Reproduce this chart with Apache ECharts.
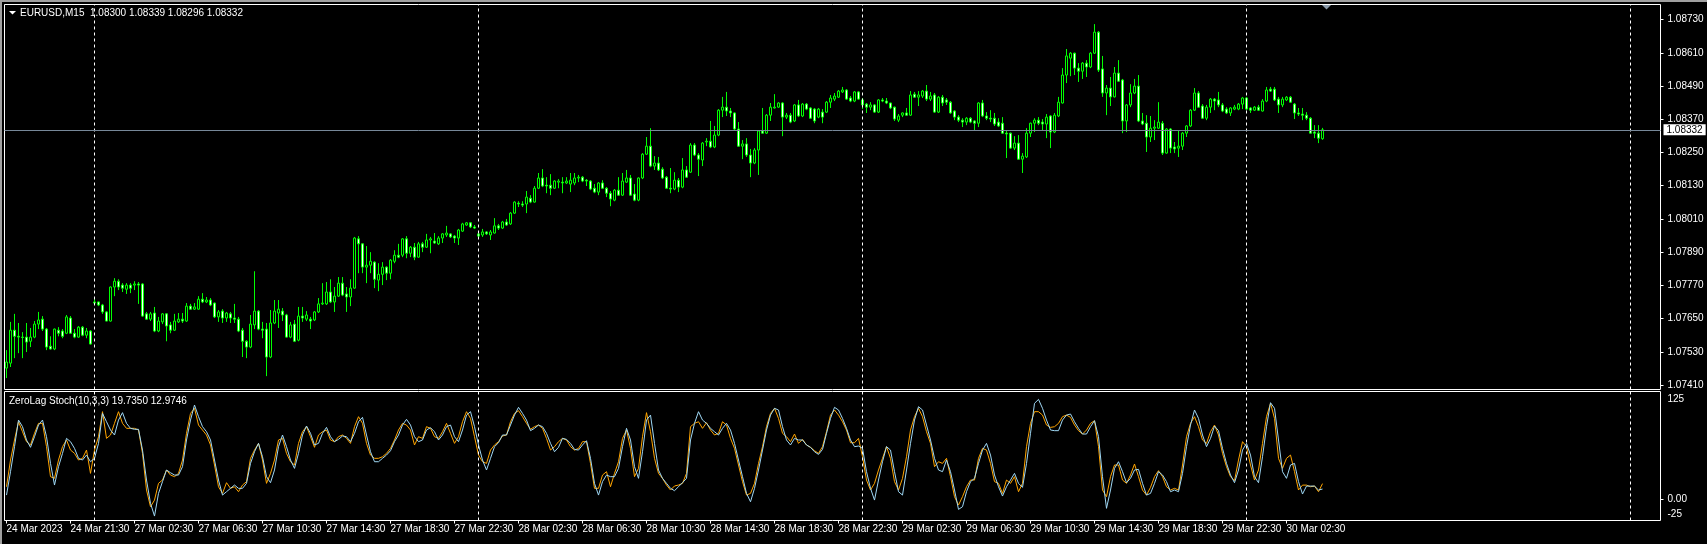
<!DOCTYPE html>
<html><head><meta charset="utf-8">
<script src="https://cdn.jsdelivr.net/npm/echarts@6/dist/echarts.min.js"></script>
<style>html,body{margin:0;padding:0;background:#000;overflow:hidden}#c{width:1707px;height:544px}</style>
</head><body><div id="c"></div>
<script>
// ---- tick labels / axis data ----
const tickLabels = ["24 Mar 2023","24 Mar 21:30","27 Mar 02:30","27 Mar 06:30","27 Mar 10:30","27 Mar 14:30",
 "27 Mar 18:30","27 Mar 22:30","28 Mar 02:30","28 Mar 06:30","28 Mar 10:30","28 Mar 14:30","28 Mar 18:30",
 "28 Mar 22:30","29 Mar 02:30","29 Mar 06:30","29 Mar 10:30","29 Mar 14:30","29 Mar 18:30","29 Mar 22:30","30 Mar 02:30"];
const labelEvery = 16;               // one time label per 16 bars (4 hours of M15)
const daySeparators = [22,118,214,310,406];
const priceTicks = [1.07410,1.07530,1.07650,1.07770,1.07890,1.08010,1.08130,1.08250,1.08370,1.08490,1.08610,1.08730];
const stochTicks = [-25,0,125];
const slots = 414;                   // bar slots on the time axis (incl. empty right side)

// ---- EURUSD M15 OHLC ----
const open = [
1.07471,1.07489,1.07608,1.07586,1.07583,1.07583,1.07568,1.07583,1.07630,1.07648,
1.07612,1.07550,1.07540,1.07608,1.07605,1.07597,1.07652,1.07597,1.07583,1.07619,
1.07590,1.07605,1.07706,1.07710,1.07699,1.07674,1.07641,1.07764,1.07785,1.07771,
1.07756,1.07771,1.07771,1.07775,1.07775,1.07667,1.07648,1.07670,1.07605,1.07638,
1.07667,1.07627,1.07608,1.07638,1.07648,1.07641,1.07695,1.07684,1.07684,1.07720,
1.07710,1.07717,1.07706,1.07656,1.07677,1.07652,1.07667,1.07652,1.07648,1.07608,
1.07568,1.07547,1.07627,1.07677,1.07612,1.07612,1.07511,1.07634,1.07670,1.07677,
1.07663,1.07583,1.07630,1.07572,1.07659,1.07648,1.07648,1.07645,1.07674,1.07703,
1.07703,1.07746,1.07710,1.07731,1.07778,1.07739,1.07728,1.07760,1.07938,1.07920,
1.07836,1.07843,1.07854,1.07789,1.07810,1.07836,1.07814,1.07857,1.07879,1.07879,
1.07938,1.07886,1.07908,1.07872,1.07920,1.07908,1.07934,1.07930,1.07920,1.07941,
1.07952,1.07956,1.07948,1.07941,1.07966,1.07988,1.07996,1.07981,1.07956,1.07952,
1.07963,1.07952,1.07959,1.07985,1.07977,1.07999,1.07992,1.08031,1.08067,1.08064,
1.08064,1.08085,1.08071,1.08121,1.08158,1.08132,1.08132,1.08121,1.08143,1.08143,
1.08140,1.08136,1.08140,1.08158,1.08161,1.08150,1.08147,1.08121,1.08107,1.08140,
1.08121,1.08103,1.08078,1.08114,1.08096,1.08143,1.08158,1.08100,1.08078,1.08158,
1.08244,1.08273,1.08201,1.08212,1.08190,1.08161,1.08121,1.08118,1.08150,1.08125,
1.08187,1.08179,1.08277,1.08241,1.08223,1.08288,1.08291,1.08270,1.08313,1.08403,
1.08414,1.08400,1.08393,1.08335,1.08273,1.08281,1.08241,1.08212,1.08259,1.08328,
1.08320,1.08385,1.08411,1.08414,1.08429,1.08378,1.08385,1.08364,1.08422,1.08382,
1.08425,1.08411,1.08407,1.08378,1.08396,1.08396,1.08432,1.08443,1.08450,1.08469,
1.08476,1.08447,1.08436,1.08469,1.08440,1.08425,1.08414,1.08422,1.08396,1.08440,
1.08436,1.08429,1.08414,1.08367,1.08385,1.08393,1.08385,1.08461,1.08450,1.08454,
1.08472,1.08443,1.08458,1.08396,1.08450,1.08440,1.08432,1.08400,1.08378,1.08367,
1.08360,1.08374,1.08364,1.08356,1.08429,1.08382,1.08374,1.08374,1.08360,1.08356,
1.08320,1.08320,1.08266,1.08284,1.08226,1.08234,1.08320,1.08356,1.08367,1.08360,
1.08353,1.08382,1.08324,1.08382,1.08429,1.08530,1.08591,1.08609,1.08555,1.08544,
1.08573,1.08559,1.08609,1.08685,1.08552,1.08465,1.08483,1.08451,1.08537,1.08512,
1.08364,1.08422,1.08465,1.08490,1.08364,1.08356,1.08306,1.08338,1.08338,1.08356,
1.08248,1.08335,1.08270,1.08266,1.08273,1.08320,1.08346,1.08403,1.08465,1.08418,
1.08374,1.08414,1.08443,1.08440,1.08422,1.08407,1.08393,1.08407,1.08407,1.08425,
1.08447,1.08411,1.08403,1.08414,1.08400,1.08436,1.08479,1.08479,1.08443,1.08422,
1.08440,1.08450,1.08425,1.08393,1.08389,1.08385,1.08374,1.08324,1.08320,1.08300];
const high = [
1.07536,1.07638,1.07667,1.07634,1.07601,1.07634,1.07616,1.07641,1.07674,1.07659,
1.07616,1.07586,1.07614,1.07619,1.07612,1.07663,1.07659,1.07612,1.07623,1.07623,
1.07616,1.07608,1.07720,1.07711,1.07703,1.07677,1.07766,1.07796,1.07792,1.07778,
1.07778,1.07778,1.07785,1.07782,1.07778,1.07674,1.07674,1.07692,1.07656,1.07670,
1.07670,1.07638,1.07667,1.07670,1.07670,1.07706,1.07703,1.07706,1.07731,1.07742,
1.07728,1.07724,1.07708,1.07681,1.07684,1.07674,1.07674,1.07703,1.07656,1.07616,
1.07572,1.07663,1.07821,1.07681,1.07638,1.07634,1.07681,1.07717,1.07717,1.07688,
1.07667,1.07638,1.07645,1.07692,1.07692,1.07677,1.07656,1.07677,1.07724,1.07778,
1.07782,1.07792,1.07764,1.07800,1.07800,1.07764,1.07792,1.07945,1.07948,1.07923,
1.07912,1.07890,1.07857,1.07850,1.07854,1.07839,1.07865,1.07897,1.07920,1.07941,
1.07948,1.07912,1.07923,1.07927,1.07927,1.07956,1.07945,1.07959,1.07948,1.07959,
1.07985,1.07959,1.07952,1.07974,1.07996,1.07999,1.07999,1.07988,1.07959,1.07974,
1.07966,1.07970,1.08013,1.07992,1.08003,1.08010,1.08035,1.08074,1.08074,1.08074,
1.08111,1.08096,1.08129,1.08176,1.08190,1.08161,1.08172,1.08150,1.08154,1.08161,
1.08161,1.08176,1.08176,1.08169,1.08165,1.08154,1.08150,1.08136,1.08143,1.08150,
1.08125,1.08111,1.08118,1.08161,1.08176,1.08187,1.08169,1.08136,1.08160,1.08248,
1.08306,1.08338,1.08237,1.08234,1.08197,1.08165,1.08194,1.08179,1.08158,1.08230,
1.08201,1.08284,1.08284,1.08248,1.08288,1.08302,1.08364,1.08346,1.08407,1.08451,
1.08469,1.08411,1.08395,1.08360,1.08295,1.08302,1.08263,1.08266,1.08331,1.08411,
1.08389,1.08429,1.08461,1.08432,1.08432,1.08393,1.08393,1.08425,1.08440,1.08429,
1.08429,1.08414,1.08411,1.08411,1.08407,1.08436,1.08458,1.08465,1.08476,1.08487,
1.08479,1.08454,1.08472,1.08472,1.08447,1.08429,1.08432,1.08425,1.08443,1.08447,
1.08447,1.08430,1.08416,1.08389,1.08395,1.08411,1.08472,1.08469,1.08472,1.08476,
1.08494,1.08469,1.08465,1.08454,1.08458,1.08447,1.08436,1.08403,1.08385,1.08374,
1.08378,1.08378,1.08367,1.08432,1.08440,1.08396,1.08403,1.08393,1.08374,1.08378,
1.08331,1.08322,1.08309,1.08313,1.08248,1.08338,1.08358,1.08374,1.08378,1.08371,
1.08389,1.08385,1.08393,1.08451,1.08555,1.08624,1.08613,1.08611,1.08573,1.08577,
1.08584,1.08613,1.08714,1.08689,1.08599,1.08494,1.08523,1.08559,1.08584,1.08516,
1.08425,1.08497,1.08516,1.08530,1.08393,1.08385,1.08382,1.08367,1.08432,1.08364,
1.08338,1.08338,1.08288,1.08331,1.08324,1.08349,1.08407,1.08483,1.08472,1.08425,
1.08422,1.08447,1.08447,1.08469,1.08429,1.08414,1.08414,1.08422,1.08429,1.08451,
1.08451,1.08414,1.08418,1.08422,1.08443,1.08487,1.08487,1.08487,1.08451,1.08451,
1.08454,1.08454,1.08429,1.08411,1.08411,1.08396,1.08378,1.08349,1.08349,1.08339];
const low = [
1.07435,1.07475,1.07507,1.07525,1.07507,1.07529,1.07547,1.07579,1.07612,1.07605,
1.07536,1.07538,1.07536,1.07586,1.07579,1.07594,1.07595,1.07579,1.07581,1.07586,
1.07579,1.07556,1.07699,1.07695,1.07667,1.07640,1.07639,1.07731,1.07753,1.07746,
1.07739,1.07742,1.07753,1.07703,1.07656,1.07645,1.07641,1.07601,1.07601,1.07630,
1.07568,1.07597,1.07605,1.07634,1.07634,1.07638,1.07682,1.07681,1.07682,1.07706,
1.07706,1.07695,1.07652,1.07638,1.07634,1.07638,1.07634,1.07634,1.07601,1.07511,
1.07507,1.07543,1.07612,1.07608,1.07579,1.07442,1.07507,1.07630,1.07616,1.07641,
1.07581,1.07579,1.07565,1.07568,1.07638,1.07641,1.07612,1.07641,1.07670,1.07699,
1.07699,1.07706,1.07674,1.07728,1.07731,1.07674,1.07695,1.07758,1.07814,1.07814,
1.07778,1.07814,1.07760,1.07749,1.07771,1.07789,1.07792,1.07850,1.07868,1.07872,
1.07868,1.07872,1.07861,1.07870,1.07890,1.07905,1.07886,1.07920,1.07916,1.07923,
1.07945,1.07941,1.07923,1.07916,1.07963,1.07985,1.07977,1.07974,1.07945,1.07945,
1.07952,1.07934,1.07957,1.07970,1.07974,1.07985,1.07988,1.08028,1.08053,1.08053,
1.08031,1.08067,1.08069,1.08118,1.08125,1.08103,1.08096,1.08118,1.08121,1.08103,
1.08136,1.08107,1.08132,1.08143,1.08143,1.08129,1.08114,1.08103,1.08096,1.08118,
1.08089,1.08056,1.08074,1.08093,1.08093,1.08140,1.08093,1.08074,1.08074,1.08154,
1.08241,1.08197,1.08187,1.08183,1.08154,1.08118,1.08103,1.08114,1.08107,1.08121,
1.08158,1.08176,1.08237,1.08165,1.08201,1.08273,1.08266,1.08266,1.08309,1.08378,
1.08382,1.08378,1.08328,1.08270,1.08226,1.08234,1.08161,1.08208,1.08169,1.08318,
1.08317,1.08364,1.08409,1.08411,1.08309,1.08371,1.08356,1.08360,1.08378,1.08378,
1.08403,1.08371,1.08356,1.08374,1.08356,1.08393,1.08411,1.08436,1.08447,1.08465,
1.08440,1.08432,1.08432,1.08440,1.08407,1.08393,1.08403,1.08393,1.08393,1.08432,
1.08425,1.08407,1.08364,1.08360,1.08378,1.08382,1.08382,1.08447,1.08418,1.08447,
1.08436,1.08436,1.08393,1.08393,1.08418,1.08422,1.08390,1.08367,1.08360,1.08342,
1.08349,1.08356,1.08331,1.08342,1.08378,1.08367,1.08360,1.08346,1.08342,1.08317,
1.08230,1.08263,1.08259,1.08223,1.08176,1.08230,1.08306,1.08324,1.08349,1.08331,
1.08302,1.08266,1.08320,1.08378,1.08427,1.08501,1.08526,1.08530,1.08505,1.08516,
1.08523,1.08555,1.08606,1.08541,1.08451,1.08385,1.08418,1.08449,1.08505,1.08320,
1.08324,1.08414,1.08461,1.08360,1.08349,1.08252,1.08288,1.08295,1.08335,1.08241,
1.08246,1.08248,1.08248,1.08234,1.08259,1.08306,1.08342,1.08400,1.08411,1.08371,
1.08367,1.08393,1.08403,1.08414,1.08396,1.08389,1.08382,1.08403,1.08403,1.08407,
1.08403,1.08393,1.08400,1.08400,1.08398,1.08432,1.08469,1.08436,1.08393,1.08414,
1.08436,1.08429,1.08371,1.08382,1.08367,1.08367,1.08318,1.08302,1.08284,1.08296];
const close = [
1.07493,1.07608,1.07586,1.07583,1.07582,1.07565,1.07583,1.07630,1.07645,1.07612,
1.07547,1.07540,1.07612,1.07597,1.07586,1.07656,1.07597,1.07583,1.07619,1.07590,
1.07605,1.07558,1.07710,1.07699,1.07674,1.07641,1.07764,1.07785,1.07764,1.07760,
1.07771,1.07760,1.07775,1.07771,1.07659,1.07648,1.07667,1.07605,1.07641,1.07667,
1.07623,1.07608,1.07641,1.07648,1.07641,1.07695,1.07684,1.07692,1.07720,1.07710,
1.07717,1.07699,1.07656,1.07674,1.07652,1.07670,1.07652,1.07648,1.07605,1.07568,
1.07547,1.07630,1.07677,1.07612,1.07608,1.07511,1.07634,1.07677,1.07684,1.07663,
1.07583,1.07627,1.07568,1.07659,1.07652,1.07663,1.07641,1.07674,1.07703,1.07706,
1.07746,1.07710,1.07731,1.07778,1.07735,1.07728,1.07760,1.07941,1.07920,1.07836,
1.07843,1.07857,1.07792,1.07810,1.07836,1.07814,1.07861,1.07879,1.07872,1.07938,
1.07886,1.07908,1.07872,1.07920,1.07908,1.07934,1.07938,1.07923,1.07941,1.07956,
1.07959,1.07945,1.07941,1.07970,1.07992,1.07996,1.07981,1.07977,1.07948,1.07963,
1.07956,1.07963,1.07985,1.07977,1.07999,1.07988,1.08031,1.08071,1.08064,1.08060,
1.08089,1.08071,1.08121,1.08158,1.08129,1.08129,1.08121,1.08147,1.08147,1.08140,
1.08147,1.08150,1.08158,1.08161,1.08147,1.08147,1.08118,1.08107,1.08140,1.08121,
1.08103,1.08082,1.08114,1.08096,1.08147,1.08158,1.08096,1.08078,1.08158,1.08244,
1.08273,1.08201,1.08212,1.08187,1.08158,1.08121,1.08118,1.08150,1.08125,1.08187,
1.08161,1.08277,1.08241,1.08226,1.08284,1.08291,1.08270,1.08313,1.08403,1.08414,
1.08400,1.08393,1.08335,1.08273,1.08281,1.08241,1.08212,1.08259,1.08328,1.08320,
1.08385,1.08414,1.08414,1.08429,1.08378,1.08385,1.08360,1.08422,1.08382,1.08425,
1.08407,1.08374,1.08364,1.08407,1.08378,1.08432,1.08447,1.08454,1.08472,1.08476,
1.08443,1.08436,1.08469,1.08443,1.08422,1.08414,1.08422,1.08396,1.08440,1.08436,
1.08429,1.08411,1.08371,1.08382,1.08393,1.08385,1.08458,1.08450,1.08458,1.08472,
1.08443,1.08454,1.08396,1.08450,1.08429,1.08432,1.08393,1.08378,1.08367,1.08360,
1.08374,1.08360,1.08356,1.08429,1.08382,1.08374,1.08371,1.08353,1.08346,1.08320,
1.08317,1.08266,1.08284,1.08226,1.08237,1.08320,1.08356,1.08367,1.08356,1.08353,
1.08378,1.08324,1.08385,1.08432,1.08530,1.08599,1.08609,1.08555,1.08544,1.08573,
1.08559,1.08609,1.08685,1.08548,1.08465,1.08483,1.08451,1.08537,1.08508,1.08364,
1.08422,1.08465,1.08490,1.08364,1.08353,1.08306,1.08338,1.08342,1.08360,1.08248,
1.08335,1.08266,1.08263,1.08273,1.08320,1.08346,1.08403,1.08465,1.08414,1.08374,
1.08414,1.08443,1.08436,1.08422,1.08400,1.08393,1.08411,1.08414,1.08425,1.08447,
1.08407,1.08403,1.08414,1.08403,1.08436,1.08476,1.08472,1.08440,1.08422,1.08443,
1.08450,1.08432,1.08393,1.08389,1.08385,1.08374,1.08320,1.08320,1.08302,1.08332];

// ---- ZeroLag Stoch(10,3,3): first buffer (orange) and second buffer (light blue) ----
const stochSignal = [
15.9,49.1,74.0,96.7,84.3,71.9,67.8,82.3,94.7,94.7,
65.7,28.4,26.3,49.1,65.7,74.0,61.5,57.4,49.1,51.2,
61.5,32.5,61.5,78.1,109.2,76.0,80.2,94.7,109.2,94.7,
88.5,88.5,88.5,86.4,57.4,11.8,-9.0,-0.7,20.1,24.2,
36.7,30.4,28.4,32.5,49.1,82.3,107.1,113.4,92.6,86.4,
80.2,67.8,42.9,15.9,7.6,20.9,13.9,15.9,9.7,18.0,
22.2,51.2,61.5,69.8,49.1,20.1,32.5,49.1,74.0,76.0,
57.4,47.0,42.9,69.8,84.3,90.6,78.1,64.9,80.2,84.3,
86.4,74.0,71.9,78.1,80.2,76.0,69.8,90.6,103.0,94.7,
69.8,55.3,51.2,51.2,53.2,57.4,63.6,74.0,86.4,94.7,
92.6,86.4,67.8,78.1,76.0,90.6,88.5,78.1,76.0,84.3,
94.7,82.3,69.8,78.1,96.7,109.2,100.9,78.1,55.3,47.0,
44.9,61.5,67.8,71.9,79.0,80.2,96.7,107.1,110.5,103.0,
94.7,87.3,90.6,92.6,88.5,76.0,61.5,65.7,71.9,76.0,
74.0,65.7,61.5,63.6,71.9,71.9,44.9,13.9,13.9,30.4,
34.6,15.9,32.5,47.0,76.0,86.4,63.6,28.4,38.7,78.1,
108.0,84.3,51.2,32.5,26.3,18.0,11.8,16.8,18.0,20.1,
32.5,90.6,94.7,96.7,88.5,95.5,86.4,80.2,82.3,96.7,
92.6,76.0,63.6,42.9,22.2,5.5,7.6,20.1,44.9,65.7,
90.6,107.1,113.4,100.9,82.3,78.1,71.9,81.4,69.8,74.8,
67.8,64.9,60.7,57.4,65.7,84.3,105.0,111.3,105.0,96.7,
86.4,70.6,70.6,76.0,53.2,24.2,11.8,20.1,36.7,51.2,
65.7,51.2,22.2,11.8,26.3,53.2,86.4,103.0,113.4,103.0,
84.3,69.8,40.8,47.0,44.9,51.2,28.4,3.5,-6.9,3.5,
15.9,24.2,24.2,51.2,63.6,61.5,44.9,22.2,20.1,7.6,
24.2,20.1,28.4,9.7,20.1,65.7,94.7,109.2,109.2,105.0,
92.6,89.7,90.5,94.7,103.0,105.0,102.1,92.6,85.6,81.4,
86.4,94.7,98.0,65.7,11.8,3.5,28.4,42.9,42.9,24.2,
20.1,30.5,44.1,28.4,11.8,5.5,15.1,28.4,35.9,28.4,
15.9,11.8,13.9,11.8,42.9,78.1,94.7,103.0,90.5,74.0,
69.8,84.3,92.6,80.2,57.4,40.8,28.4,23.4,49.1,71.9,
65.7,42.9,24.2,36.7,69.8,103.0,119.6,100.9,51.2,38.7,
51.2,55.3,34.6,11.8,17.9,17.9,15.9,16.7,9.7,19.735];
const stochMain = [
5.5,34.6,65.7,98.8,90.6,74.0,64.9,78.1,92.6,98.8,
78.1,44.9,18.0,40.8,57.4,76.0,71.9,63.6,51.2,49.1,
55.3,47.0,51.2,69.8,107.1,96.7,86.4,80.2,98.8,108.0,
94.7,88.5,87.3,87.3,61.5,24.2,-4.8,-20.6,7.6,22.2,
36.7,33.3,30.4,30.4,40.8,74.0,98.8,117.5,103.0,90.6,
84.3,74.0,49.1,24.2,5.5,9.7,13.9,18.0,13.9,13.9,
20.1,44.9,59.4,69.8,53.2,28.4,20.9,36.7,65.7,80.2,
65.7,49.1,38.7,57.4,80.2,91.4,82.3,67.8,69.8,82.3,
89.7,78.1,71.9,74.8,79.0,78.1,71.9,82.3,96.7,102.2,
80.2,59.4,47.0,47.0,51.2,55.3,60.7,71.9,80.2,92.6,
99.7,92.6,78.1,71.9,74.0,86.4,89.3,84.3,74.0,80.2,
90.6,92.6,78.1,71.9,86.4,105.0,109.2,90.6,67.8,49.1,
36.7,51.2,65.7,70.6,80.2,80.2,92.6,105.0,114.6,107.1,
98.8,85.6,88.5,92.6,90.6,82.3,69.8,59.4,64.9,76.0,
74.8,69.8,62.3,61.5,67.8,73.1,51.2,20.1,5.5,22.2,
30.4,28.4,28.4,38.7,65.7,88.5,74.0,40.8,26.3,59.4,
98.8,105.0,69.8,36.7,26.3,20.1,13.9,11.0,15.9,20.9,
26.3,74.0,94.7,109.2,98.8,94.7,88.5,84.3,80.2,88.5,
94.7,86.4,69.8,49.1,28.4,7.6,-2.8,13.9,36.7,61.5,
86.4,105.0,113.4,111.3,90.6,74.0,67.8,76.0,74.0,74.0,
67.8,64.9,59.4,56.1,62.3,82.3,100.9,114.6,111.3,100.9,
88.5,74.0,65.7,66.5,63.6,34.6,13.9,-0.7,24.2,47.0,
65.7,61.5,34.6,9.7,5.5,36.7,69.8,98.8,115.4,111.3,
92.6,74.0,51.2,36.7,34.6,49.1,34.6,11.8,-12.3,-9.0,
9.7,22.2,26.3,44.9,61.5,69.8,55.3,30.5,15.9,4.3,
15.9,24.2,32.5,20.1,15.1,44.9,82.3,119.6,124.5,113.4,
98.8,86.4,85.6,85.6,98.8,105.0,106.3,96.7,88.5,81.4,
81.4,90.5,98.0,78.1,28.4,-11.0,11.8,38.7,47.0,34.6,
20.9,26.3,36.7,37.5,20.1,5.5,7.6,20.1,34.6,30.5,
22.2,9.7,11.8,9.7,32.5,65.7,92.6,111.3,100.9,80.2,
65.7,76.0,91.4,85.6,63.6,44.9,30.5,20.9,36.7,61.5,
69.8,55.3,28.4,20.9,53.2,90.5,120.4,113.4,74.0,34.6,
26.3,42.9,44.9,22.2,6.8,16.7,16.7,16.7,11.8,12.9746];

// ---- build ----
const FONT = 'Liberation Sans, Arial, sans-serif';
const last = close.length - 1;
const cats = [];
for (let i = 0; i < slots; i++) cats.push(String(i));
const candles = open.map((o, i) => [o, close[i], low[i], high[i]]);
const labelIdx = (i) => i % labelEvery === 0 && (i / labelEvery) < tickLabels.length;
const sepLines = daySeparators.map(i => ({ xAxis: String(i) }));
const sepStyle = { color: '#ffffff', width: 1, type: [3, 3] };

const chart = echarts.init(document.getElementById('c'), null, { renderer: 'canvas', width: 1707, height: 544 });
const option = {
  backgroundColor: '#000000',
  animation: false,
  grid: [
    { left: 4.5, top: 4.5, width: 1656, height: 385, show: true, borderColor: '#ffffff', borderWidth: 1, backgroundColor: 'transparent' },
    { left: 4.5, top: 391.5, width: 1656, height: 129, show: true, borderColor: '#ffffff', borderWidth: 1, backgroundColor: 'transparent' }
  ],
  xAxis: [
    { type: 'category', gridIndex: 0, data: cats, boundaryGap: true,
      axisLine: { show: false, onZero: false }, axisTick: { show: false }, axisLabel: { show: false }, splitLine: { show: false } },
    { type: 'category', gridIndex: 1, data: cats, boundaryGap: true, position: 'bottom',
      axisLine: { show: false, onZero: false }, splitLine: { show: false },
      axisTick: { show: true, alignWithLabel: true, interval: (i) => labelIdx(i), length: 3, lineStyle: { color: '#ffffff' } },
      axisLabel: { show: true, interval: (i) => labelIdx(i), formatter: (v, i) => tickLabels[i / labelEvery] || '',
        color: '#ffffff', fontFamily: FONT, fontSize: 10, align: 'left', margin: 4 } }
  ],
  yAxis: [
    { type: 'value', gridIndex: 0, position: 'right', min: 1.073937, max: 1.087849,
      axisLine: { show: false }, splitLine: { show: false },
      axisTick: { show: true, customValues: priceTicks, length: 3, lineStyle: { color: '#ffffff' } },
      axisLabel: { customValues: priceTicks, formatter: (v) => v.toFixed(5), color: '#ffffff', fontFamily: FONT, fontSize: 10, margin: 7 } },
    { type: 'value', gridIndex: 1, position: 'right', min: -26.1, max: 134.3,
      axisLine: { show: false }, splitLine: { show: false },
      axisTick: { show: true, customValues: [0], length: 3, lineStyle: { color: '#ffffff' } },
      axisLabel: { customValues: stochTicks, color: '#ffffff', fontFamily: FONT, fontSize: 10, margin: 7,
        formatter: (v) => v === 0 ? '0.00' : (v < 0 ? '{lo|' + v + '}' : String(v)),
        rich: { lo: { color: '#ffffff', fontFamily: FONT, fontSize: 10, padding: [0, 0, 11, 0] } } } }
  ],
  series: [
    { type: 'candlestick', name: 'EURUSD', xAxisIndex: 0, yAxisIndex: 0, data: candles, barWidth: 2, silent: true,
      itemStyle: { color: '#000000', color0: '#ffffff', borderColor: '#00ff00', borderColor0: '#00ff00', borderColorDoji: '#00ff00', borderWidth: 1 },
      markLine: { silent: true, symbol: ['none', 'none'], animation: false, label: { show: false }, lineStyle: sepStyle, data: sepLines } },
    { type: 'line', name: 'bid', xAxisIndex: 0, yAxisIndex: 0, data: close, symbol: 'none', silent: true,
      lineStyle: { opacity: 0, width: 0 }, itemStyle: { opacity: 0 },
      markLine: { silent: true, symbol: ['none', 'none'], animation: false, precision: 5,
        data: [ { yAxis: close[last] } ],
        lineStyle: { color: '#778899', width: 1, type: 'solid' },
        label: { show: true, position: 'end', distance: 3, formatter: close[last].toFixed(5), color: '#000000',
          backgroundColor: '#ffffff', fontFamily: FONT, fontSize: 10, padding: [0, 3, 0, 3], lineHeight: 11 } } },
    { type: 'line', name: 'signal', xAxisIndex: 1, yAxisIndex: 1, data: stochSignal, symbol: 'none', silent: true,
      lineStyle: { color: '#ffa500', width: 1 }, itemStyle: { color: '#ffa500' },
      markLine: { silent: true, symbol: ['none', 'none'], animation: false, label: { show: false }, lineStyle: sepStyle, data: sepLines } },
    { type: 'line', name: 'main', xAxisIndex: 1, yAxisIndex: 1, data: stochMain, symbol: 'none', silent: true,
      lineStyle: { color: '#9fd8f5', width: 1 }, itemStyle: { color: '#9fd8f5' } }
  ],
  graphic: [
    { type: 'rect', shape: { x: 0, y: 0, width: 1707, height: 2 }, style: { fill: '#a0a0a0' }, silent: true },
    { type: 'rect', shape: { x: 0, y: 0, width: 2, height: 544 }, style: { fill: '#a0a0a0' }, silent: true },
    { type: 'polygon', shape: { points: [[9, 11], [16, 11], [12.5, 14.5]] }, style: { fill: '#ffffff' }, silent: true },
    { type: 'text', x: 20, y: 13, style: { text: 'EURUSD,M15  ' + [open[last], high[last], low[last], close[last]].map(v => v.toFixed(5)).join(' '),
      fill: '#ffffff', font: '10px ' + FONT, verticalAlign: 'middle' }, silent: true },
    { type: 'text', x: 9, y: 401, style: { text: 'ZeroLag Stoch(10,3,3) ' + stochSignal[last].toFixed(4) + ' ' + stochMain[last].toFixed(4),
      fill: '#ffffff', font: '10px ' + FONT, verticalAlign: 'middle' }, silent: true },
    { type: 'polygon', shape: { points: [[1322, 5], [1331, 5], [1326.5, 9.5]] }, style: { fill: '#8a9aaa' }, silent: true }
  ]
};
chart.setOption(option);
</script>
</body></html>
